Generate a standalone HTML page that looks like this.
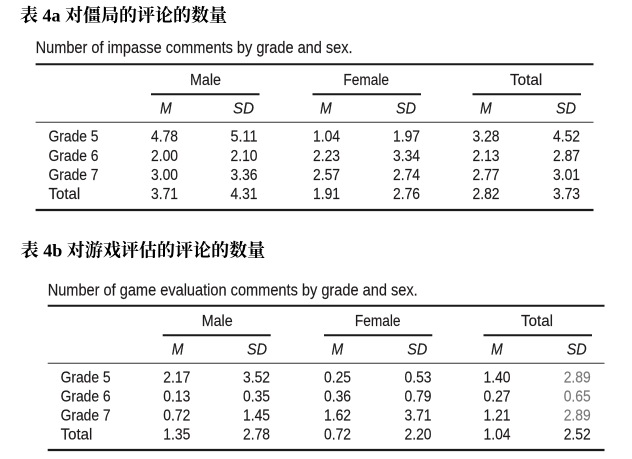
<!DOCTYPE html>
<html>
<head>
<meta charset="utf-8">
<style>
  html, body { margin: 0; padding: 0; background: #ffffff; }
  body { width: 632px; height: 459px; overflow: hidden; }
  svg { display: block; }
  .ttl { font-family: "Liberation Serif", "Noto Serif CJK SC", serif; font-weight: bold; font-size: 18px; fill: #000; }
  .cap { font-family: "Liberation Sans", sans-serif; font-size: 17px; fill: #1e1b1c; stroke: #1e1b1c; stroke-width: 0.15; }
  .t { font-family: "Liberation Sans", sans-serif; font-size: 16px; fill: #1e1b1c; stroke: #1e1b1c; stroke-width: 0.15; }
  .i { font-family: "Liberation Sans", sans-serif; font-size: 16px; font-style: italic; fill: #1e1b1c; stroke: #1e1b1c; stroke-width: 0.15; }
  .g { fill: #7a7a7a; stroke: #7a7a7a; }
</style>
</head>
<body>
<svg width="632" height="459" viewBox="0 0 632 459" xmlns="http://www.w3.org/2000/svg">
  <!-- ============ TABLE 4a ============ -->
  <text class="ttl" x="20" y="21.5" textLength="207" lengthAdjust="spacingAndGlyphs">表 4a 对僵局的评论的数量</text>
  <text class="cap" x="35.6" y="53" textLength="317" lengthAdjust="spacingAndGlyphs">Number of impasse comments by grade and sex.</text>

  <line x1="35.6" y1="64.3" x2="593.5" y2="64.3" stroke="#1a1a1a" stroke-width="2"/>

  <text class="t" x="190" y="85" textLength="31" lengthAdjust="spacingAndGlyphs">Male</text>
  <text class="t" x="343.4" y="85" textLength="45.6" lengthAdjust="spacingAndGlyphs">Female</text>
  <text class="t" x="510" y="85" textLength="32.3" lengthAdjust="spacingAndGlyphs">Total</text>

  <line x1="151" y1="94.3" x2="259.5" y2="94.3" stroke="#1a1a1a" stroke-width="2"/>
  <line x1="312.5" y1="94.3" x2="421" y2="94.3" stroke="#1a1a1a" stroke-width="2"/>
  <line x1="472.5" y1="94.3" x2="581" y2="94.3" stroke="#1a1a1a" stroke-width="2"/>

  <text class="i" x="160" y="113.3" textLength="11.7" lengthAdjust="spacingAndGlyphs">M</text>
  <text class="i" x="233" y="113.3" textLength="21" lengthAdjust="spacingAndGlyphs">SD</text>
  <text class="i" x="320" y="113.3" textLength="11.7" lengthAdjust="spacingAndGlyphs">M</text>
  <text class="i" x="396" y="113.3" textLength="20" lengthAdjust="spacingAndGlyphs">SD</text>
  <text class="i" x="480" y="113.3" textLength="11.7" lengthAdjust="spacingAndGlyphs">M</text>
  <text class="i" x="556" y="113.3" textLength="20" lengthAdjust="spacingAndGlyphs">SD</text>

  <line x1="35.6" y1="122.2" x2="593.5" y2="122.2" stroke="#333" stroke-width="1"/>

  <g>
    <text class="t" x="48.5" y="141.7" textLength="50" lengthAdjust="spacingAndGlyphs">Grade 5</text>
    <text class="t" x="151" y="141.7" textLength="27" lengthAdjust="spacingAndGlyphs">4.78</text>
    <text class="t" x="230.5" y="141.7" textLength="27" lengthAdjust="spacingAndGlyphs">5.11</text>
    <text class="t" x="313" y="141.7" textLength="27" lengthAdjust="spacingAndGlyphs">1.04</text>
    <text class="t" x="393" y="141.7" textLength="27" lengthAdjust="spacingAndGlyphs">1.97</text>
    <text class="t" x="472.5" y="141.7" textLength="27" lengthAdjust="spacingAndGlyphs">3.28</text>
    <text class="t" x="553" y="141.7" textLength="27" lengthAdjust="spacingAndGlyphs">4.52</text>

    <text class="t" x="48.5" y="161" textLength="50" lengthAdjust="spacingAndGlyphs">Grade 6</text>
    <text class="t" x="151" y="161" textLength="27" lengthAdjust="spacingAndGlyphs">2.00</text>
    <text class="t" x="230.5" y="161" textLength="27" lengthAdjust="spacingAndGlyphs">2.10</text>
    <text class="t" x="313" y="161" textLength="27" lengthAdjust="spacingAndGlyphs">2.23</text>
    <text class="t" x="393" y="161" textLength="27" lengthAdjust="spacingAndGlyphs">3.34</text>
    <text class="t" x="472.5" y="161" textLength="27" lengthAdjust="spacingAndGlyphs">2.13</text>
    <text class="t" x="553" y="161" textLength="27" lengthAdjust="spacingAndGlyphs">2.87</text>

    <text class="t" x="48.5" y="180.2" textLength="50" lengthAdjust="spacingAndGlyphs">Grade 7</text>
    <text class="t" x="151" y="180.2" textLength="27" lengthAdjust="spacingAndGlyphs">3.00</text>
    <text class="t" x="230.5" y="180.2" textLength="27" lengthAdjust="spacingAndGlyphs">3.36</text>
    <text class="t" x="313" y="180.2" textLength="27" lengthAdjust="spacingAndGlyphs">2.57</text>
    <text class="t" x="393" y="180.2" textLength="27" lengthAdjust="spacingAndGlyphs">2.74</text>
    <text class="t" x="472.5" y="180.2" textLength="27" lengthAdjust="spacingAndGlyphs">2.77</text>
    <text class="t" x="553" y="180.2" textLength="27" lengthAdjust="spacingAndGlyphs">3.01</text>

    <text class="t" x="48.5" y="199" textLength="31.7" lengthAdjust="spacingAndGlyphs">Total</text>
    <text class="t" x="151" y="199" textLength="27" lengthAdjust="spacingAndGlyphs">3.71</text>
    <text class="t" x="230.5" y="199" textLength="27" lengthAdjust="spacingAndGlyphs">4.31</text>
    <text class="t" x="313" y="199" textLength="27" lengthAdjust="spacingAndGlyphs">1.91</text>
    <text class="t" x="393" y="199" textLength="27" lengthAdjust="spacingAndGlyphs">2.76</text>
    <text class="t" x="472.5" y="199" textLength="27" lengthAdjust="spacingAndGlyphs">2.82</text>
    <text class="t" x="553" y="199" textLength="27" lengthAdjust="spacingAndGlyphs">3.73</text>
  </g>

  <line x1="35.6" y1="210" x2="593.5" y2="210" stroke="#1a1a1a" stroke-width="2.2"/>

  <!-- ============ TABLE 4b ============ -->
  <text class="ttl" x="20.7" y="256.5" textLength="244.5" lengthAdjust="spacingAndGlyphs">表 4b 对游戏评估的评论的数量</text>
  <text class="cap" x="47.7" y="295.3" textLength="370" lengthAdjust="spacingAndGlyphs">Number of game evaluation comments by grade and sex.</text>

  <line x1="47.7" y1="305.7" x2="604.5" y2="305.7" stroke="#1a1a1a" stroke-width="2"/>

  <text class="t" x="201.7" y="326" textLength="31" lengthAdjust="spacingAndGlyphs">Male</text>
  <text class="t" x="354.9" y="326" textLength="45.6" lengthAdjust="spacingAndGlyphs">Female</text>
  <text class="t" x="521" y="326" textLength="32" lengthAdjust="spacingAndGlyphs">Total</text>

  <line x1="162.7" y1="335.2" x2="270.7" y2="335.2" stroke="#1a1a1a" stroke-width="2"/>
  <line x1="324" y1="335.2" x2="432.3" y2="335.2" stroke="#1a1a1a" stroke-width="2"/>
  <line x1="483.5" y1="335.2" x2="592" y2="335.2" stroke="#1a1a1a" stroke-width="2"/>

  <text class="i" x="171.7" y="354.3" textLength="11.7" lengthAdjust="spacingAndGlyphs">M</text>
  <text class="i" x="247" y="354.3" textLength="20" lengthAdjust="spacingAndGlyphs">SD</text>
  <text class="i" x="331.5" y="354.3" textLength="11.7" lengthAdjust="spacingAndGlyphs">M</text>
  <text class="i" x="407.3" y="354.3" textLength="20" lengthAdjust="spacingAndGlyphs">SD</text>
  <text class="i" x="491" y="354.3" textLength="11.7" lengthAdjust="spacingAndGlyphs">M</text>
  <text class="i" x="566.7" y="354.3" textLength="20" lengthAdjust="spacingAndGlyphs">SD</text>

  <line x1="47.7" y1="363.3" x2="604.5" y2="363.3" stroke="#333" stroke-width="1"/>

  <g>
    <text class="t" x="60.6" y="382.7" textLength="50" lengthAdjust="spacingAndGlyphs">Grade 5</text>
    <text class="t" x="163.3" y="382.7" textLength="27" lengthAdjust="spacingAndGlyphs">2.17</text>
    <text class="t" x="243" y="382.7" textLength="27" lengthAdjust="spacingAndGlyphs">3.52</text>
    <text class="t" x="324" y="382.7" textLength="27" lengthAdjust="spacingAndGlyphs">0.25</text>
    <text class="t" x="404.5" y="382.7" textLength="27" lengthAdjust="spacingAndGlyphs">0.53</text>
    <text class="t" x="483.5" y="382.7" textLength="27" lengthAdjust="spacingAndGlyphs">1.40</text>
    <text class="t g" x="563.7" y="382.7" textLength="27" lengthAdjust="spacingAndGlyphs">2.89</text>

    <text class="t" x="60.6" y="401.7" textLength="50" lengthAdjust="spacingAndGlyphs">Grade 6</text>
    <text class="t" x="163.3" y="401.7" textLength="27" lengthAdjust="spacingAndGlyphs">0.13</text>
    <text class="t" x="243" y="401.7" textLength="27" lengthAdjust="spacingAndGlyphs">0.35</text>
    <text class="t" x="324" y="401.7" textLength="27" lengthAdjust="spacingAndGlyphs">0.36</text>
    <text class="t" x="404.5" y="401.7" textLength="27" lengthAdjust="spacingAndGlyphs">0.79</text>
    <text class="t" x="483.5" y="401.7" textLength="27" lengthAdjust="spacingAndGlyphs">0.27</text>
    <text class="t g" x="563.7" y="401.7" textLength="27" lengthAdjust="spacingAndGlyphs">0.65</text>

    <text class="t" x="60.6" y="420.7" textLength="50" lengthAdjust="spacingAndGlyphs">Grade 7</text>
    <text class="t" x="163.3" y="420.7" textLength="27" lengthAdjust="spacingAndGlyphs">0.72</text>
    <text class="t" x="243" y="420.7" textLength="27" lengthAdjust="spacingAndGlyphs">1.45</text>
    <text class="t" x="324" y="420.7" textLength="27" lengthAdjust="spacingAndGlyphs">1.62</text>
    <text class="t" x="404.5" y="420.7" textLength="27" lengthAdjust="spacingAndGlyphs">3.71</text>
    <text class="t" x="483.5" y="420.7" textLength="27" lengthAdjust="spacingAndGlyphs">1.21</text>
    <text class="t g" x="563.7" y="420.7" textLength="27" lengthAdjust="spacingAndGlyphs">2.89</text>

    <text class="t" x="60.6" y="439.4" textLength="31.7" lengthAdjust="spacingAndGlyphs">Total</text>
    <text class="t" x="163.3" y="439.4" textLength="27" lengthAdjust="spacingAndGlyphs">1.35</text>
    <text class="t" x="243" y="439.4" textLength="27" lengthAdjust="spacingAndGlyphs">2.78</text>
    <text class="t" x="324" y="439.4" textLength="27" lengthAdjust="spacingAndGlyphs">0.72</text>
    <text class="t" x="404.5" y="439.4" textLength="27" lengthAdjust="spacingAndGlyphs">2.20</text>
    <text class="t" x="483.5" y="439.4" textLength="27" lengthAdjust="spacingAndGlyphs">1.04</text>
    <text class="t" x="563.7" y="439.4" textLength="27" lengthAdjust="spacingAndGlyphs">2.52</text>
  </g>

  <line x1="47.7" y1="450" x2="604.5" y2="450" stroke="#1a1a1a" stroke-width="2.2"/>
</svg>
</body>
</html>
